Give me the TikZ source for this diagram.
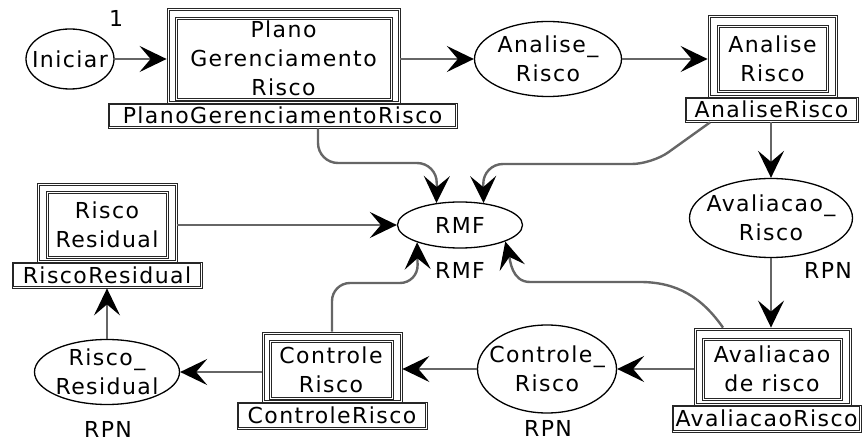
\documentclass[tikz,border=0pt]{standalone}
\usepackage{fontspec}
\setmainfont{DejaVu Sans}[LetterSpace=6.5]
\usetikzlibrary{arrows.meta,shapes.geometric}
\begin{document}
\begin{tikzpicture}[x=1pt,y=-1pt,
  font=\fontsize{22}{29}\selectfont,
  place/.style={draw=black, line width=1.3pt, ellipse, inner sep=-20pt, align=center},
  dbl/.style={draw=black!85, line width=0.8pt, rectangle, inner sep=0pt, align=center,
    path picture={\draw[black!85, line width=0.8pt]
      ([shift={(#1,-#1)}]path picture bounding box.north west) rectangle
      ([shift={(-#1,#1)}]path picture bounding box.south east);}},
  trout/.style={dbl=2pt},
  trin/.style={dbl=2pt},
  trlbl/.style={dbl=1.7pt, fill=white},
  txt/.style={inner sep=0pt},
  arr/.style={draw=black!60, line width=2.4pt, -{Stealth[length=27pt,width=26pt,inset=11pt,color=black]}},
]
\useasboundingbox (0,0) rectangle (864,443);

% places
\node[place, minimum width=88pt, minimum height=60pt] (ini) at (70,59) {Iniciar};
\node[place, minimum width=147pt, minimum height=75pt] (anp) at (548,59) {Analise\_\\Risco};
\node[place, minimum width=163pt, minimum height=79pt] (avp) at (771,218) {Avaliacao\_\\Risco};
\node[place, minimum width=139pt, minimum height=88pt] (ctp) at (547,369) {Controle\_\\Risco};
\node[place, minimum width=145pt, minimum height=65pt] (rrp) at (107,372) {Risco\_\\Residual};
\node[place, minimum width=125pt, minimum height=46pt] (rmf) at (460,225) {RMF};

% place labels
\node[txt] (one) at (116,18) {1};
\node[txt] (rpn1) at (828,270) {RPN};
\node[txt] (rmfl) at (460,270) {RMF};
\node[txt] (rpn2) at (548,428) {RPN};
\node[txt] (rpn3) at (108,429) {RPN};

% transitions
\node[trout, minimum width=233pt, minimum height=95pt] (pl) at (283.5,55.5) {};
\node[trin, minimum width=217pt, minimum height=83pt] (plin) at (283.5,58.5) {Plano\\Gerenciamento\\Risco};
\node[trlbl, minimum width=349pt, minimum height=25pt] (pllbl) at (282.5,115.5) {PlanoGerenciamentoRisco};

\node[trout, minimum width=129pt, minimum height=82pt] (an) at (772.5,56) {};
\node[trin, minimum width=111pt, minimum height=67pt] (anin) at (772.5,58.5) {Analise\\Risco};
\node[trlbl, minimum width=173pt, minimum height=25pt] (anlbl) at (771.5,109.5) {AnaliseRisco};

\node[trout, minimum width=157pt, minimum height=77pt] (av) at (772.5,366.5) {};
\node[trin, minimum width=140pt, minimum height=62pt] (avin) at (772,369) {Avaliacao\\de risco};
\node[trlbl, minimum width=189pt, minimum height=27pt] (avlbl) at (766.5,418.5) {AvaliacaoRisco};

\node[trout, minimum width=140pt, minimum height=70pt] (ct) at (332,367) {};
\node[trin, minimum width=124pt, minimum height=59pt] (ctin) at (331,369.5) {Controle\\Risco};
\node[trlbl, minimum width=190pt, minimum height=27pt] (ctlbl) at (332,415.5) {ControleRisco};

\node[trout, minimum width=140pt, minimum height=79pt] (rr) at (107,222.5) {};
\node[trin, minimum width=122pt, minimum height=67pt] (rrin) at (107,224.5) {Risco\\Residual};
\node[trlbl, minimum width=190pt, minimum height=26pt] (rrlbl) at (107,275) {RiscoResidual};

% arcs
\draw[arr] (ini) -- (ini -| pl.west);
\draw[arr] (pl.east |- anp.west) -- (anp.west);
\draw[arr] (anp.east) -- (anp.east -| an.west);
\draw[arr] (anlbl.south -| avp.north) -- (avp.north);
\draw[arr] (avp.south) -- (avp.south |- av.north);
\draw[arr] (av.west |- ctp.east) -- (ctp.east);
\draw[arr] (ctp.west) -- (ctp.west -| ct.east);
\draw[arr] (ct.west |- rrp.east) -- (rrp.east);
\draw[arr] (rrp.north) -- (rrp.north |- rrlbl.south);
\draw[arr] (rr.east |- rmf.west) -- (rmf.west);

\draw[arr, rounded corners=20pt] ([xshift=35.5pt]pllbl.south) |- (437,163) -- (rmf.137);
\draw[arr, rounded corners=20pt] ([xshift=-61.5pt]anlbl.south) -- (652,164) -- (483,164) -- (rmf.43);
\draw[arr] ([xshift=-49.5pt]av.north) to[out=125,in=0] (640,282) -- (530,282) to[out=180,in=-75] (rmf.-20);
\draw[arr, rounded corners=18pt] (ct.north) |- (418,283) -- (rmf.-158);
\end{tikzpicture}
\end{document}
